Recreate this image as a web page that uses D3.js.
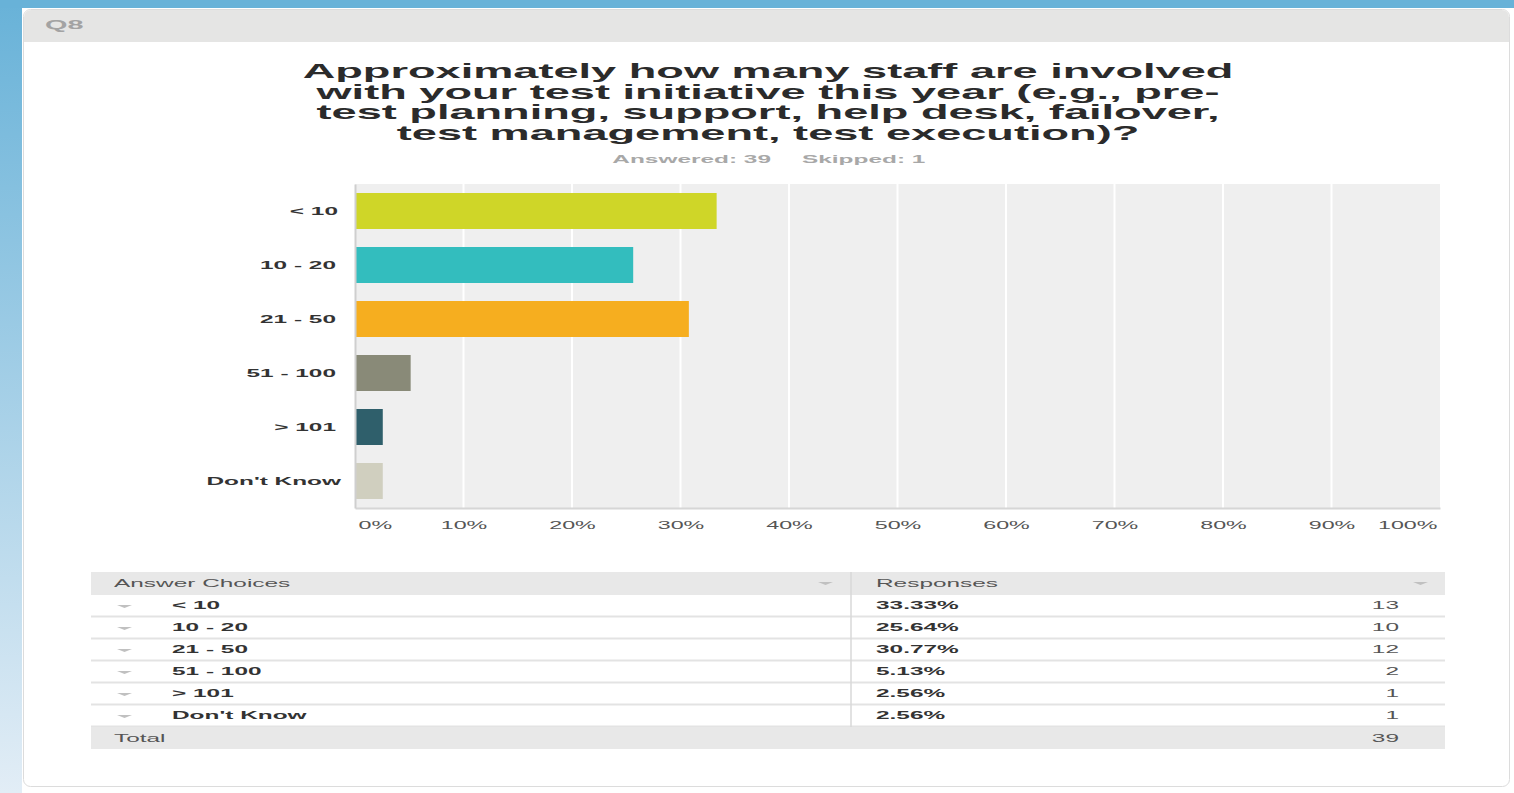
<!DOCTYPE html>
<html>
<head>
<meta charset="utf-8">
<script src="https://cdn.jsdelivr.net/npm/d3@7"></script>
<style>
body { margin: 0; background: #fff; overflow: hidden; }
text { font-family: "Liberation Sans", Arial, sans-serif; }
</style>
</head>
<body>
<div id="wrapper"></div>
<script>
// survey data
const categories = ["< 10", "10 - 20", "21 - 50", "51 - 100", "> 101", "Don't Know"];
const percents = [33.33, 25.64, 30.77, 5.13, 2.56, 2.56];
const counts = [13, 10, 12, 2, 1, 1];
const barColors = ["#cfd628", "#33bdbe", "#f6ae1f", "#898a78", "#2f5f6b", "#d0cfbf"];
const tickValues = [0, 10, 20, 30, 40, 50, 60, 70, 80, 90, 100];
const titleLines = [
  "Approximately how many staff are involved",
  "with your test initiative this year (e.g., pre-",
  "test planning, support, help desk, failover,",
  "test management, test execution)?"
];
const answered = 39, skipped = 1;
const total = d3.sum(counts);

const SX = 2.22; // the screenshot is stretched sideways

let dimensions = {
  width: 1514,
  height: 793,
  plot: { left: 355, right: 1440, top: 184, bottom: 508 },
}

const svg = d3.select("#wrapper").append("svg")
  .attr("width", dimensions.width)
  .attr("height", dimensions.height);

function label(g, x, y, str, size, opts) {
  opts = opts || {};
  return g.append("text")
    .attr("transform", `translate(${x},${y}) scale(${opts.sx || SX},1)`)
    .attr("text-anchor", opts.anchor || "start")
    .attr("font-size", size)
    .attr("font-weight", opts.bold ? "bold" : "normal")
    .attr("fill", opts.color || "#333")
    .text(str);
}

// page background
const grad = svg.append("defs").append("linearGradient")
  .attr("id", "side").attr("x1", 0).attr("y1", 0).attr("x2", 0).attr("y2", 1);
grad.append("stop").attr("offset", "0%").attr("stop-color", "#68b2d8");
grad.append("stop").attr("offset", "100%").attr("stop-color", "#e2edf6");
svg.append("rect").attr("x", 0).attr("y", 0).attr("width", 22).attr("height", 793).attr("fill", "url(#side)");
svg.append("rect").attr("x", 0).attr("y", 0).attr("width", 1514).attr("height", 8).attr("fill", "#68b2d8");

// card
svg.append("rect").attr("x", 23.5).attr("y", 9.5).attr("width", 1486).attr("height", 777)
  .attr("rx", 7).attr("fill", "#fff").attr("stroke", "#dcdcdc");
svg.append("rect").attr("x", 24).attr("y", 10).attr("width", 1485).attr("height", 32)
  .attr("rx", 7).attr("fill", "#e5e5e4");
svg.append("rect").attr("x", 24).attr("y", 30).attr("width", 1485).attr("height", 12).attr("fill", "#e5e5e4");
label(svg, 45, 29, "Q8", 13, { bold: true, color: "#a3a3a3" });

// title
titleLines.forEach((t, i) => label(svg, 768, 78 + i * 20.5, t, 21, { bold: true, anchor: "middle", color: "#2b2b2b", sx: 2.15 }));
label(svg, 771, 163, "Answered: " + answered, 11, { bold: true, anchor: "end", color: "#a8a8a8" });
label(svg, 802, 163, "Skipped: " + skipped, 11, { bold: true, color: "#a8a8a8" });

// chart
const p = dimensions.plot;
const xScale = d3.scaleLinear().domain([0, 100]).range([p.left, p.right]);
const yScale = d3.scaleBand().domain(categories).range([p.top, p.bottom])
  .paddingInner(1 / 3).paddingOuter(1 / 6);

const bounds = svg.append("g");
bounds.append("rect")
  .attr("x", p.left).attr("y", p.top)
  .attr("width", p.right - p.left).attr("height", p.bottom - p.top)
  .attr("fill", "#efefef");

bounds.selectAll(".grid").data(tickValues.slice(1, -1)).join("line")
  .attr("x1", d => xScale(d)).attr("x2", d => xScale(d))
  .attr("y1", p.top).attr("y2", p.bottom)
  .attr("stroke", "#fff").attr("stroke-width", 2);

bounds.selectAll(".bar").data(categories).join("rect")
  .attr("x", xScale(0) + 1)
  .attr("y", d => yScale(d))
  .attr("width", (d, i) => xScale(percents[i]) - xScale(0) - 1)
  .attr("height", yScale.bandwidth())
  .attr("fill", (d, i) => barColors[i]);

// axes
const xAxis = bounds.append("g")
  .attr("transform", `translate(0,${p.bottom})`)
  .call(d3.axisBottom(xScale).tickValues(tickValues).tickSize(0).tickFormat(d => d + "%"));
xAxis.select(".domain").attr("stroke", "#d6d6d6").attr("stroke-width", 2);
xAxis.selectAll("text")
  .attr("y", 0).attr("dy", 0)
  .attr("transform", `translate(0,21) scale(${SX},1)`)
  .attr("font-size", 10.5).attr("fill", "#555")
  .attr("text-anchor", (d, i) => i === 0 ? "start" : i === tickValues.length - 1 ? "end" : "middle")
  .attr("x", (d, i) => i === 0 ? 3 / SX : i === tickValues.length - 1 ? -3 / SX : 0);

const yAxis = bounds.append("g")
  .attr("transform", `translate(${p.left},0)`)
  .call(d3.axisLeft(yScale).tickSize(0));
yAxis.select(".domain").attr("stroke", "#cfcfcf").attr("stroke-width", 2);
yAxis.selectAll("text")
  .attr("x", 0).attr("dy", 0)
  .attr("transform", `translate(-19,4) scale(${SX},1)`)
  .attr("font-size", 11).attr("font-weight", "bold").attr("fill", "#333");
yAxis.selectAll(".tick").filter(d => d === "< 10").select("text")
  .attr("transform", `translate(-17,4) scale(${SX},1)`);
yAxis.selectAll(".tick").filter(d => d === "Don't Know").select("text")
  .attr("transform", `translate(-14,4) scale(${SX},1)`);

// table
const table = { left: 91, right: 1445, split: 851, top: 572, rowH: 22 };
const tg = svg.append("g");
function triangle(x, y) {
  tg.append("path")
    .attr("d", `M${x},${y} l15,0 l-7.5,3 z`)
    .attr("fill", "#c0c0c0");
}
tg.append("rect").attr("x", table.left).attr("y", table.top)
  .attr("width", table.right - table.left).attr("height", table.rowH + 1).attr("fill", "#e8e8e8");
label(tg, 114, table.top + 15, "Answer Choices", 11, { color: "#555" });
label(tg, 876, table.top + 15, "Responses", 11, { color: "#555" });
triangle(818, table.top + 10);
triangle(1413, table.top + 10);

categories.forEach((c, i) => {
  const y0 = table.top + table.rowH * (i + 1) + 1;
  tg.append("line").attr("x1", table.left).attr("x2", table.right)
    .attr("y1", y0 + table.rowH - 0.5).attr("y2", y0 + table.rowH - 0.5)
    .attr("stroke", "#e3e3e3").attr("stroke-width", 2);
  triangle(117, y0 + 10);
  label(tg, 172, y0 + 14, c, 11, { bold: true, color: "#333" });
  label(tg, 876, y0 + 14, percents[i].toFixed(2) + "%", 11, { bold: true, color: "#333" });
  label(tg, 1399, y0 + 14, counts[i], 11, { anchor: "end", color: "#555" });
});
const yTot = table.top + table.rowH * 7 + 1;
tg.append("rect").attr("x", table.left).attr("y", yTot)
  .attr("width", table.right - table.left).attr("height", table.rowH).attr("fill", "#e8e8e8");
label(tg, 114, yTot + 15, "Total", 11, { color: "#555" });
label(tg, 1399, yTot + 15, total, 11, { anchor: "end", color: "#555" });
tg.append("line").attr("x1", table.split).attr("x2", table.split)
  .attr("y1", table.top).attr("y2", yTot)
  .attr("stroke", "#d8d8d8").attr("stroke-width", 1.5);
</script>
</body>
</html>
